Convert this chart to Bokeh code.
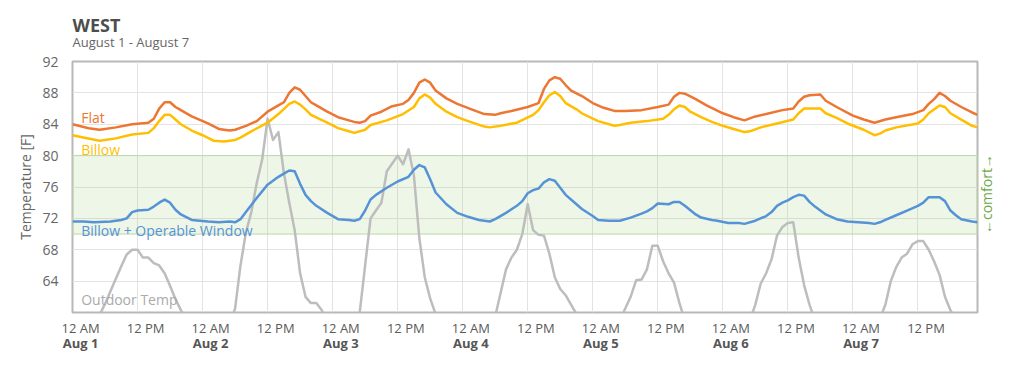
import math
from bokeh.plotting import figure
from bokeh.models import (Range1d, LinearAxis, FixedTicker, Grid, BoxAnnotation,
                          Label, Title, CustomJSTickFormatter)
from bokeh.embed import file_html
from bokeh.resources import INLINE

FONT = "Open Sans"

# ---------------- data (hours since Aug 1, 12 AM) ----------------
flat_hours = [0, 3, 5, 8, 11, 14, 15, 16, 17, 18, 19, 20, 22, 25, 27, 29, 30, 32, 34, 36,
              38, 39, 40, 41, 42, 43, 44, 45, 47, 49, 51, 52, 53, 54, 55, 57, 59, 61, 62, 63,
              64, 65, 66, 67, 69, 71, 74, 76, 78, 79, 81, 84, 86, 87, 88, 89, 90, 91, 92, 94,
              96, 98, 100, 102, 105, 108, 110, 111, 112, 113, 115, 117, 120, 122, 124, 126, 128, 131, 133, 134,
              135, 136, 138, 139, 141, 144, 146, 148, 150, 152, 155, 157, 158, 159, 160, 161, 162, 164, 166, 167]
flat_temp = [84.0, 83.5, 83.3, 83.6, 84.0, 84.2, 84.7, 86.0, 86.8, 86.8, 86.2, 85.8, 85.0, 84.1, 83.4, 83.2, 83.3, 83.8, 84.4, 85.6,
             86.4, 86.8, 88.0, 88.7, 88.4, 87.6, 86.8, 86.4, 85.6, 84.9, 84.5, 84.3, 84.2, 84.4, 85.1, 85.6, 86.3, 86.6, 87.1, 88.0,
             89.3, 89.7, 89.3, 88.3, 87.3, 86.6, 85.8, 85.3, 85.2, 85.4, 85.7, 86.2, 86.7, 88.5, 89.6, 90.0, 89.8, 89.0, 88.3, 87.6,
             86.7, 86.1, 85.7, 85.7, 85.8, 86.2, 86.5, 87.5, 88.0, 87.9, 87.2, 86.4, 85.4, 84.9, 84.5, 85.0, 85.3, 85.8, 86.0, 86.9,
             87.5, 87.7, 87.8, 87.0, 86.2, 85.1, 84.6, 84.2, 84.6, 84.9, 85.3, 85.8, 86.6, 87.2, 88.0, 87.6, 87.0, 86.2, 85.5, 85.2]

billow_hours = [0, 2, 5, 8, 11, 14, 15, 16, 17, 18, 19, 20, 22, 24, 26, 28, 30, 31, 33, 36,
                38, 40, 41, 42, 43, 44, 47, 49, 51, 52, 54, 55, 58, 61, 63, 64, 65, 66, 67, 69,
                71, 73, 76, 77, 79, 82, 85, 86, 87, 88, 89, 90, 91, 93, 94, 97, 100, 101, 103, 106,
                109, 110, 111, 112, 113, 114, 116, 118, 120, 122, 124, 125, 127, 130, 133, 134, 135, 138, 139, 141,
                143, 146, 148, 149, 150, 152, 156, 157, 158, 160, 161, 162, 164, 166, 167]
billow_temp = [82.6, 82.3, 81.9, 82.2, 82.7, 82.9, 83.5, 84.4, 85.2, 85.2, 84.6, 84.0, 83.2, 82.6, 81.9, 81.8, 82.0, 82.3, 83.1, 84.2,
               85.3, 86.6, 86.9, 86.5, 85.9, 85.2, 84.2, 83.5, 83.1, 82.9, 83.3, 83.9, 84.5, 85.3, 86.2, 87.3, 87.8, 87.4, 86.6, 85.6,
               84.9, 84.4, 83.7, 83.6, 83.8, 84.2, 85.2, 85.8, 86.8, 87.7, 88.1, 87.6, 86.7, 85.9, 85.4, 84.4, 83.8, 83.9, 84.2, 84.4,
               84.7, 85.2, 85.9, 86.4, 86.2, 85.6, 84.9, 84.3, 83.8, 83.4, 83.0, 83.1, 83.6, 84.1, 84.6, 85.4, 86.0, 86.0, 85.4, 84.8,
               84.1, 83.3, 82.6, 82.8, 83.2, 83.6, 84.1, 84.6, 85.4, 86.4, 86.2, 85.4, 84.6, 83.8, 83.6]

window_hours = [0, 2, 4, 7, 9, 10, 11, 12, 14, 15, 16, 17, 18, 19, 20, 22, 25, 27, 29, 30,
                31, 32, 34, 36, 38, 39, 40, 41, 42, 43, 44, 45, 47, 49, 51, 52, 53, 54, 55, 56,
                58, 60, 62, 63, 64, 65, 66, 67, 69, 71, 73, 75, 77, 78, 80, 82, 83, 84, 85, 86,
                87, 88, 89, 90, 91, 93, 94, 96, 97, 99, 101, 103, 105, 106, 107, 108, 110, 111, 112, 113,
                115, 116, 118, 119, 121, 123, 124, 126, 128, 129, 130, 131, 132, 133, 134, 135, 136, 137, 139, 141,
                143, 145, 147, 148, 149, 150, 152, 154, 156, 157, 158, 160, 161, 162, 163, 164, 166, 167]
window_temp = [71.6, 71.6, 71.5, 71.6, 71.8, 72.0, 72.8, 73.0, 73.1, 73.5, 74.0, 74.4, 74.0, 73.1, 72.5, 71.8, 71.6, 71.5, 71.6, 71.5,
               71.9, 72.8, 74.6, 76.3, 77.3, 77.7, 78.1, 78.0, 76.4, 75.0, 74.2, 73.6, 72.7, 71.9, 71.8, 71.7, 71.9, 73.0, 74.4, 75.0,
               75.9, 76.7, 77.3, 78.2, 78.8, 78.5, 77.0, 75.3, 73.8, 72.7, 72.2, 71.8, 71.6, 71.9, 72.7, 73.6, 74.2, 75.2, 75.6, 75.8,
               76.6, 77.0, 76.8, 75.9, 75.0, 73.8, 73.2, 72.3, 71.8, 71.7, 71.7, 72.1, 72.6, 72.9, 73.3, 73.9, 73.8, 74.1, 74.1, 73.6,
               72.5, 72.1, 71.8, 71.7, 71.4, 71.4, 71.3, 71.7, 72.3, 72.8, 73.6, 74.0, 74.3, 74.7, 75.0, 74.9, 74.1, 73.5, 72.5, 71.9,
               71.6, 71.5, 71.4, 71.3, 71.5, 71.8, 72.4, 73.0, 73.6, 74.0, 74.7, 74.7, 74.2, 73.0, 72.4, 71.9, 71.6, 71.5]

outdoor_hours = [0, 3, 5, 6, 7, 8, 9, 10, 11, 12, 13, 14, 15, 16, 17, 18, 19, 20, 21, 24,
                 28, 29, 30, 31, 32, 33, 34, 35, 36, 37, 38, 39, 40, 41, 42, 43, 44, 45, 46, 47,
                 50, 52, 53, 54, 55, 56, 57, 58, 59, 60, 61, 62, 63, 64, 65, 66, 67, 70, 76, 78,
                 79, 80, 81, 82, 83, 84, 85, 86, 87, 88, 89, 90, 91, 92, 93, 96, 100, 101, 102, 103,
                 104, 105, 106, 107, 108, 109, 110, 111, 112, 113, 118, 124, 125, 126, 127, 128, 129, 130, 131, 132,
                 133, 134, 135, 136, 137, 142, 148, 149, 150, 151, 152, 153, 154, 155, 156, 157, 158, 159, 160, 161,
                 162, 163, 167]
outdoor_temp = [57.0, 58.0, 59.7, 61.1, 62.7, 64.3, 65.9, 67.4, 68.0, 68.0, 67.0, 67.0, 66.3, 66.0, 65.0, 63.4, 61.7, 60.3, 59.0, 57.5,
                57.5, 58.5, 60.5, 66.0, 70.2, 72.8, 76.5, 79.5, 84.7, 82.0, 83.0, 77.8, 74.0, 70.5, 65.0, 62.0, 61.2, 61.2, 60.3, 58.5,
                57.5, 58.0, 60.0, 66.0, 72.0, 73.0, 74.0, 78.0, 79.0, 80.0, 78.9, 80.8, 77.5, 69.5, 64.5, 61.8, 59.8, 57.5, 57.5, 59.5,
                62.5, 65.5, 67.0, 68.0, 70.0, 73.8, 70.5, 69.9, 69.8, 67.5, 64.5, 63.0, 62.2, 61.0, 59.8, 57.5, 57.5, 59.0, 60.5, 62.0,
                64.1, 64.2, 65.5, 68.5, 68.5, 66.5, 65.0, 63.8, 61.2, 59.0, 57.5, 57.5, 59.0, 61.0, 63.7, 65.0, 66.8, 69.8, 70.9, 71.4,
                71.5, 67.0, 63.5, 61.0, 59.0, 57.5, 57.5, 59.2, 61.0, 64.0, 65.8, 67.0, 67.5, 68.7, 69.1, 69.1, 68.0, 66.5, 64.8, 62.0,
                60.3, 59.0, 57.5]

comfort_low, comfort_high = 70, 80
comfort_text = "\u2190comfort\u2192"
y_ticks = [64, 68, 72, 76, 80, 84, 88, 92]
grid_hours = [0, 12, 24, 36, 48, 60, 72, 84, 96, 108, 120, 132, 144, 156]
time_labels = ["12 AM", "12 PM"] * 7
day_labels = ["Aug 1", "Aug 2", "Aug 3", "Aug 4", "Aug 5", "Aug 6", "Aug 7"]
series_names = ["Flat", "Billow", "Billow + Operable Window", "Outdoor Temp"]

# ---------------- styling ----------------
C_FLAT = "#ec7632"
C_BILLOW = "#ffbf00"
C_WINDOW = "#5593d6"
C_OUT = "#bdbdbd"
C_COMFORT = "#6aaa45"
LABEL_SHIFT = 1.5  # hours: tick labels sit a little right of gridlines

p = figure(width=1010, height=362, x_range=Range1d(0, 167), y_range=Range1d(60, 92),
           x_axis_type=None, output_backend="svg", toolbar_location=None,
           min_border_left=72, min_border_right=33, min_border_top=61, min_border_bottom=50)
p.background_fill_color = "white"
p.border_fill_color = "white"
p.outline_line_color = "#b8b8b8"
p.outline_line_width = 2

# y axis
ya = p.yaxis[0]
ya.ticker = FixedTicker(ticks=y_ticks)
ya.axis_line_color = None
ya.major_tick_line_color = None
ya.minor_tick_line_color = None
ya.major_label_text_font = FONT
ya.major_label_text_font_size = "14px"
ya.major_label_text_color = "#666666"
ya.major_label_standoff = 8
ya.axis_label = "Temperature [F]"
ya.axis_label_text_font = FONT
ya.axis_label_text_font_size = "14px"
ya.axis_label_text_font_style = "normal"
ya.axis_label_text_color = "#666666"
ya.axis_label_standoff = 4

p.ygrid.ticker = FixedTicker(ticks=y_ticks)
p.ygrid.grid_line_color = "#e3e3e3"
p.ygrid.grid_line_width = 1
p.add_layout(Grid(dimension=0, ticker=FixedTicker(ticks=grid_hours),
                  grid_line_color="#e3e3e3", grid_line_width=1))

# right-hand "comfort" marker: rotated text rising from the band's lower edge
ra = LinearAxis(ticker=FixedTicker(ticks=[comfort_low]),
                major_label_overrides={comfort_low: comfort_text})
ra.axis_line_color = None
ra.major_tick_line_color = None
ra.minor_tick_line_color = None
ra.major_label_orientation = math.pi / 2
ra.major_label_text_font = FONT
ra.major_label_text_font_size = "14px"
ra.major_label_text_color = C_COMFORT
ra.major_label_standoff = 3
p.add_layout(ra, "right")

# x axes (time of day, then date)
time_ticks = [h + LABEL_SHIFT for h in grid_hours]
day_ticks = [h + LABEL_SHIFT for h in grid_hours[::2]]
fmt_code = """
let best = 0; let d = 1e9;
for (let i = 0; i < tpos.length; i++) { const e = Math.abs(tpos[i] - tick); if (e < d) { d = e; best = i; } }
return tlabels[best];
"""
xa1 = LinearAxis(ticker=FixedTicker(ticks=time_ticks),
                 formatter=CustomJSTickFormatter(args=dict(tpos=time_ticks, tlabels=time_labels), code=fmt_code))
xa2 = LinearAxis(ticker=FixedTicker(ticks=day_ticks),
                 formatter=CustomJSTickFormatter(args=dict(tpos=day_ticks, tlabels=day_labels), code=fmt_code))
for ax, style, col, so in ((xa1, "normal", "#5a5a5a", 0), (xa2, "bold", "#555555", -12)):
    ax.axis_line_color = None
    ax.major_tick_line_color = None
    ax.minor_tick_line_color = None
    ax.major_label_text_font = FONT
    ax.major_label_text_font_size = "13px"
    ax.major_label_text_font_style = style
    ax.major_label_text_color = col
    ax.major_label_standoff = so
p.add_layout(xa1, "below")
p.add_layout(xa2, "below")

# comfort band
p.add_layout(BoxAnnotation(bottom=comfort_low, top=comfort_high, fill_color="#8cc063", fill_alpha=0.15,
                           line_color="#bcd8a4", line_alpha=1.0, line_width=1, level="underlay"))

# series
p.line(outdoor_hours, outdoor_temp, line_color=C_OUT, line_width=2.5, line_join="round")
p.line(window_hours, window_temp, line_color=C_WINDOW, line_width=2.5, line_join="round")
p.line(billow_hours, billow_temp, line_color=C_BILLOW, line_width=2.5, line_join="round")
p.line(flat_hours, flat_temp, line_color=C_FLAT, line_width=2.5, line_join="round")

# series labels
for name, yv, col in ((series_names[0], 84.8, C_FLAT), (series_names[1], 80.8, C_BILLOW),
                      (series_names[2], 70.4, C_WINDOW), (series_names[3], 61.7, "#aaaaaa")):
    p.add_layout(Label(x=1.6, y=yv, text=name, text_font=FONT, text_font_size="14px",
                       text_color=col, text_align="left", text_baseline="middle"))

# titles
p.add_layout(Title(text="August 1 - August 7", align="left", text_font=FONT, text_font_size="13px",
                   text_font_style="normal", text_color="#666666", standoff=21), "above")
p.add_layout(Title(text="WEST", align="left", text_font=FONT, text_font_size="18px",
                   text_font_style="bold", text_color="#4d4d4d", standoff=-32), "above")

open("out.html", "w").write(file_html(p, INLINE))
